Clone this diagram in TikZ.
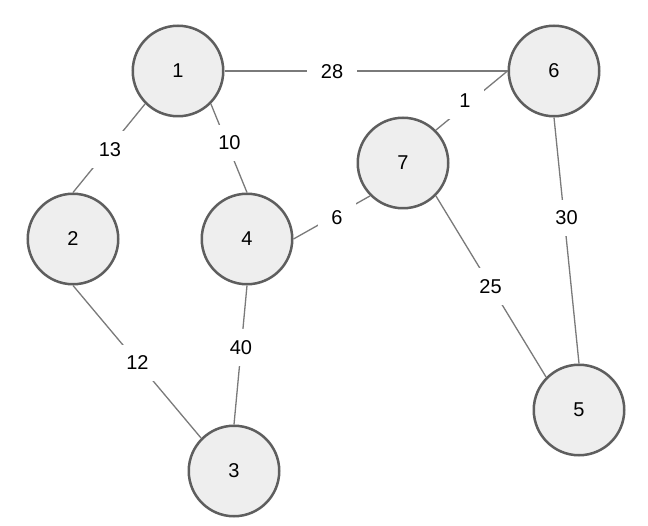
\documentclass[tikz,border=0pt]{standalone}
\usepackage{fontspec}
\setmainfont{Liberation Sans}
\definecolor{nodefill}{HTML}{EEEEEE}
\definecolor{nodeline}{HTML}{5E5E5E}
\definecolor{edgeline}{HTML}{7A7A7A}
\begin{document}
\begin{tikzpicture}[x=1pt,y=-1pt,
  vert/.style={circle, draw=nodeline, fill=nodefill, line width=2.5pt,
    minimum size=90.5pt, inner sep=0pt, font=\fontsize{20}{24}\selectfont},
  wlab/.style={fill=white, inner xsep=13.5pt, inner ysep=11pt,
    font=\fontsize{20}{24}\selectfont},
  conn/.style={draw=edgeline, line width=1.3pt}]
\useasboundingbox[fill=white] (0,0) rectangle (648,526);
% vertices
\node[vert] (n1) at (178,71) {1};
\node[vert] (n6) at (554,71) {6};
\node[vert] (n7) at (403,163) {7};
\node[vert] (n2) at (73,239) {2};
\node[vert] (n4) at (247,239) {4};
\node[vert] (n5) at (579,410) {5};
\node[vert] (n3) at (234,471) {3};
% connectors
\draw[conn] (n1.east) -- (n6.west);
\draw[conn] (n7.north east) -- (n6.west);
\draw[conn] (n1.south west) -- (n2.north);
\draw[conn] (n1.south east) -- (n4.north);
\draw[conn] (n7.south west) -- (n4.east);
\draw[conn] (n7.south east) -- (n5.north west);
\draw[conn] (n6.south) -- (n5.north);
\draw[conn] (n2.south) -- (n3.north west);
\draw[conn] (n4.south) -- (n3.north);
% weights
\node[wlab] (w16) at (332,72) {28};
\node[wlab] (w76) at (465,101) {1};
\node[wlab] (w12) at (110,149.5) {13};
\node[wlab] (w14) at (229.5,143) {10};
\node[wlab] (w74) at (337,217.5) {6};
\node[wlab] (w65) at (566.5,218) {30};
\node[wlab] (w75) at (490.5,286.5) {25};
\node[wlab] (w23) at (137.5,363) {12};
\node[wlab] (w43) at (241,347.5) {40};
\end{tikzpicture}
\end{document}
